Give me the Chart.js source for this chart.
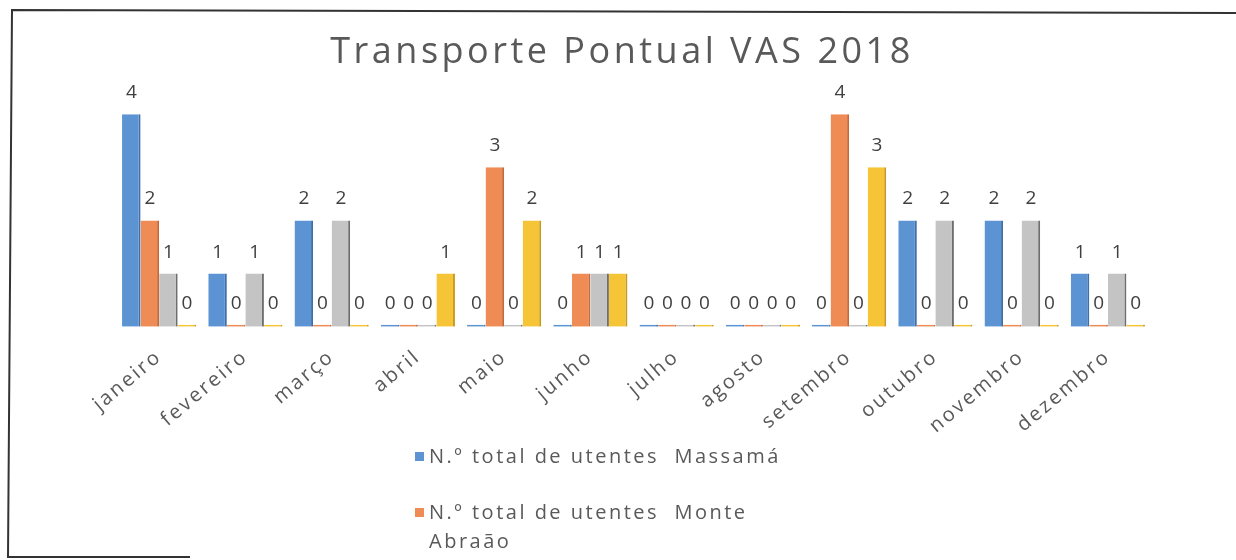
<!DOCTYPE html>
<html>
<head>
<meta charset="utf-8">
<title>Transporte Pontual VAS 2018</title>
<script src="https://cdn.jsdelivr.net/npm/chart.js@4.4.1/dist/chart.umd.min.js"></script>
<style>
  html, body { margin: 0; padding: 0; background: #fff; }
  #wrap { width: 1236px; height: 560px; position: relative; }
</style>
</head>
<body>
<div id="wrap"><canvas id="myChart" width="1236" height="560"></canvas></div>
<script>
// Dados
const meses = ['janeiro', 'fevereiro', 'março', 'abril', 'maio', 'junho', 'julho', 'agosto', 'setembro', 'outubro', 'novembro', 'dezembro'];
const massama = [4, 1, 2, 0, 0, 0, 0, 0, 0, 2, 2, 1];
const monteAbraao = [2, 0, 0, 0, 3, 1, 0, 0, 4, 0, 0, 0];
const serie3 = [1, 1, 2, 0, 0, 1, 0, 0, 0, 2, 2, 1];
const serie4 = [0, 0, 0, 1, 2, 1, 0, 0, 3, 0, 0, 0];
const nomes = ['N.º total de utentes  Massamá', 'N.º total de utentes  Monte Abraão', 'N.º total de utentes  Queluz', 'N.º total de utentes  Cacém'];
const cores = ['#5b93d3', '#ef8b55', '#c4c4c4', '#f6c437'];
const bordas = ['#3f6fa8', '#c8683a', '#6e6e6e', '#c99a1c'];
const titulo = 'Transporte Pontual VAS 2018';

// O texto do original é bem espaçado: aplica letterSpacing antes do layout
const espacamento = {
    id: 'espacamento',
    beforeUpdate(chart) { chart.ctx.letterSpacing = '2.5px'; },
    beforeDraw(chart) { chart.ctx.letterSpacing = '2.5px'; }
};

// Título desenhado à mão (o do Chart.js não tem espaçamento de letras)
const tituloPlugin = {
    id: 'tituloPlugin',
    afterDraw(chart) {
        const ctx = chart.ctx;
        ctx.save();
        ctx.font = '36px "Open Sans"';
        ctx.letterSpacing = '3.5px';
        ctx.fillStyle = '#595959';
        ctx.textAlign = 'center';
        ctx.textBaseline = 'middle';
        ctx.fillText(titulo, 622, 53);
        ctx.restore();
    }
};

// Desenha o número por cima de cada barra
const rotulos = {
    id: 'rotulos',
    afterDatasetsDraw(chart) {
        const ctx = chart.ctx;
        ctx.save();
        ctx.font = '19px "Open Sans"';
        ctx.letterSpacing = '0px';
        ctx.fillStyle = '#404040';
        ctx.textAlign = 'center';
        ctx.textBaseline = 'bottom';
        chart.data.datasets.forEach((ds, i) => {
            chart.getDatasetMeta(i).data.forEach((bar, j) => {
                ctx.fillText(String(ds.data[j]), bar.x, bar.y - 12);
            });
        });
        ctx.restore();
    }
};

// Legenda em coluna (só aparecem as duas primeiras, como no original)
const legenda = {
    id: 'legenda',
    afterDraw(chart) {
        const ctx = chart.ctx;
        ctx.save();
        ctx.font = '20px "Open Sans"';
        ctx.letterSpacing = '2.5px';
        ctx.textBaseline = 'middle';
        const x = 415;
        let y = 457;
        for (let i = 0; i < 2; i++) {
            ctx.fillStyle = cores[i];
            ctx.fillRect(x, y - 5, 9, 9);
            ctx.fillStyle = '#595959';
            // quebra simples de linha
            const palavras = nomes[i].split(' ');
            let linha = '';
            let yy = y;
            palavras.forEach(p => {
                const teste = linha ? linha + ' ' + p : p;
                if (ctx.measureText(teste).width > 400 && linha) {
                    ctx.fillText(linha, x + 14, yy);
                    linha = p;
                    yy += 29;
                } else {
                    linha = teste;
                }
            });
            ctx.fillText(linha, x + 14, yy);
            y += 56;
        }
        ctx.restore();

        // moldura
        ctx.save();
        ctx.strokeStyle = '#333';
        ctx.lineWidth = 2;
        ctx.beginPath();
        ctx.moveTo(1236, 13);
        ctx.lineTo(12, 10);
        ctx.lineTo(8, 557);
        ctx.lineTo(190, 557);
        ctx.stroke();
        ctx.restore();
    }
};

const ctx = document.getElementById('myChart').getContext('2d');
const myChart = new Chart(ctx, {
    type: 'bar',
    data: {
        labels: meses,
        datasets: [massama, monteAbraao, serie3, serie4].map((d, i) => ({
            label: nomes[i],
            data: d,
            backgroundColor: cores[i],
            borderColor: bordas[i],
            borderWidth: { top: 0, right: 2, bottom: 0, left: 0 },
            borderSkipped: false,
            minBarLength: 2,
            categoryPercentage: 0.86,
            barPercentage: 1.0
        }))
    },
    options: {
        responsive: false,
        animation: false,
        layout: {
            padding: { left: 91, right: 85, top: 77, bottom: 112 }
        },
        scales: {
            x: {
                grid: { display: false },
                border: { display: false },
                ticks: {
                    color: '#595959',
                    font: { family: 'Open Sans', size: 20 },
                    padding: 10,
                    minRotation: 40,
                    maxRotation: 40
                }
            },
            y: {
                display: true,
                min: 0,
                max: 4.7,
                grid: { display: false },
                border: { display: false },
                ticks: { display: false },
                afterFit(scale) { scale.width = 25; }
            }
        },
        plugins: {
            legend: { display: false },
            tooltip: { enabled: false },
            title: { display: false }
        }
    },
    plugins: [espacamento, rotulos, legenda, tituloPlugin]
});
</script>
</body>
</html>
